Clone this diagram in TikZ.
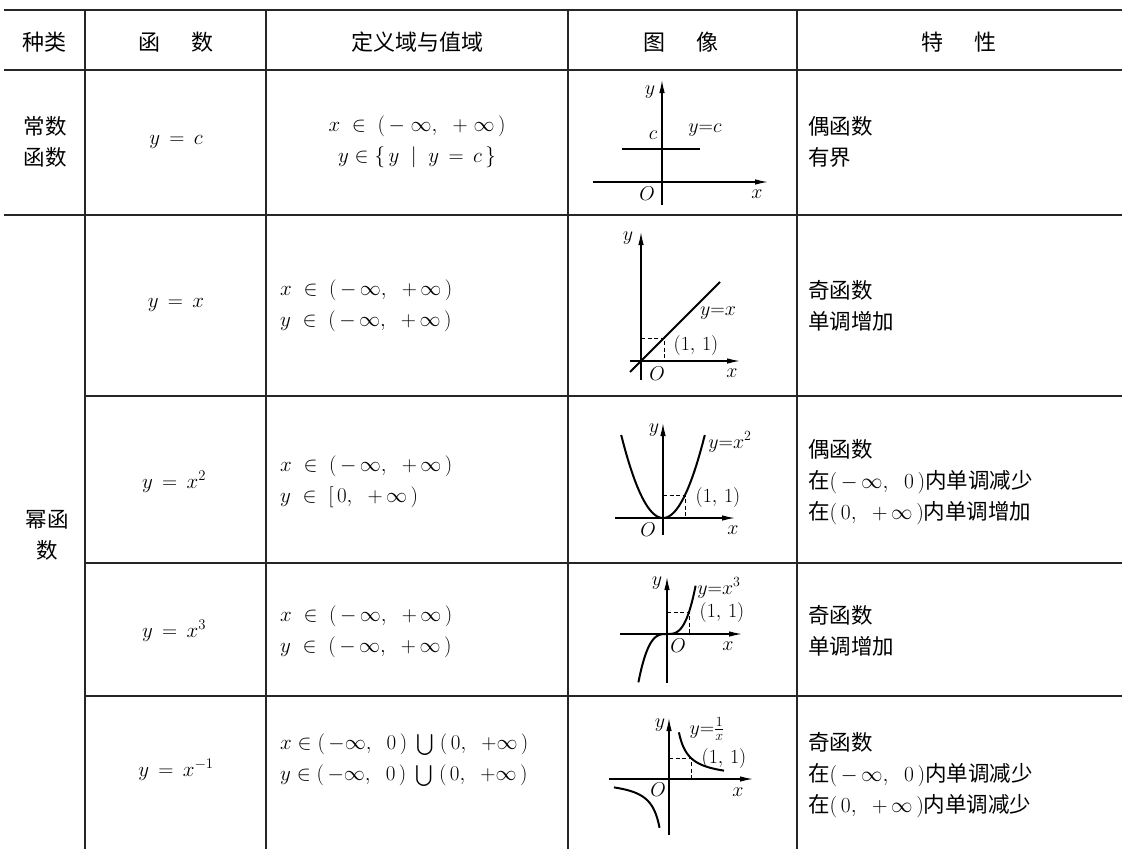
\RequirePackage{fix-cm}
\documentclass[tikz,border=0pt]{standalone}
\usepackage{amsmath,amssymb}
\usepackage{fontspec}
\newfontfamily\cjk{Noto Sans CJK SC}
\usetikzlibrary{arrows.meta}
\newcommand\fcm{,\;\;}
\tikzset{
 rule/.style={line width=1.3pt, draw=black!85},
 hdr/.style={font=\cjk\fontsize{22}{24}\selectfont, inner sep=0pt},
 cn/.style={font=\cjk\fontsize{21.5}{31}\selectfont, align=left, inner sep=0pt},
 cnc/.style={cn, align=center},
 mth/.style={font=\fontsize{21}{31}\selectfont, inner sep=0pt},
 mthl/.style={mth, align=left},
 mthc/.style={mth, align=center},
 axis/.style={line width=1.2pt, -{Latex[length=13pt,width=5.5pt]}},
 curve/.style={line width=2pt},
 guide/.style={line width=1pt, dash pattern=on 4pt off 2.5pt},
 lab/.style={font=\fontsize{20}{24}\selectfont, inner sep=0pt},
}
\begin{document}
\begin{tikzpicture}[x=1pt,y=-1pt]
\useasboundingbox (0,0) rectangle (1122,849);
% table rules
\draw[rule, line width=2.8pt] (4,10) -- (1122,10);
\draw[rule, line width=1.8pt] (4,70) -- (1122,70);
\draw[rule] (4,215) -- (1122,215);
\draw[rule] (85,396) -- (1122,396);
\draw[rule] (85,563) -- (1122,563);
\draw[rule] (85,696) -- (1122,696);
\foreach \cx in {85,266,568,797} \draw[rule] (\cx,10) -- (\cx,849);
% header
\node[hdr] (h1) at (45,42) {种类};
\node[hdr] (h2) at (176,42) {函\hspace{1.4em}数};
\node[hdr] (h3) at (417,42) {定义域与值域};
\node[hdr] (h4) at (681,42) {图\hspace{1.4em}像};
\node[hdr] (h5) at (959,42) {特\hspace{1.4em}性};
% row 1
\node[cnc] (k1) at (45,142) {常数\\函数};
\node[mth] (f1) at (176,142) {$y\,=\,c$};
\node[mthc] (d1) at (417,142) {$x\;\in\;(\,-\;\infty\fcm+\;\infty\,)$\\$y\in\{\,y\;\mid\;y\,=\,c\,\}$};
\node[cn, anchor=west] (p1) at (808,142) {偶函数\\有界};
% power functions label
\node[cnc] (k2) at (47,535) {幂函\\数};
% row 2
\node[mth] (f2) at (176,305) {$y\,=\,x$};
\node[mthl, anchor=west] (d2) at (280,306) {$x\;\in\;(\,-\,\infty\fcm+\,\infty\,)$\\$y\;\in\;(\,-\,\infty\fcm+\,\infty\,)$};
\node[cn, anchor=west] (p2) at (808,306) {奇函数\\单调增加};
% row 3
\node[mth] (f3) at (174,482) {$y\,=\,x^{2}$};
\node[mthl, anchor=west] (d3) at (280,482) {$x\;\in\;(\,-\,\infty\fcm+\,\infty\,)$\\$y\;\in\;[\,0\fcm+\,\infty\,)$};
\node[cn, anchor=west] (p3) at (808,482) {偶函数\\在$(\,-\,\infty\fcm0\,)$内单调减少\\在$(\,0\fcm+\,\infty\,)$内单调增加};
% row 4
\node[mth] (f4) at (174,631) {$y\,=\,x^{3}$};
\node[mthl, anchor=west] (d4) at (280,632) {$x\;\in\;(\,-\,\infty\fcm+\,\infty\,)$\\$y\;\in\;(\,-\,\infty\fcm+\,\infty\,)$};
\node[cn, anchor=west] (p4) at (808,631) {奇函数\\单调增加};
% row 5
\node[mth] (f5) at (176,770) {$y\,=\,x^{-1}$};
\node[mthl, anchor=west] (d5) at (280,760) {$x\in(\,-\infty\fcm0\,)\;\bigcup\;(\,0\fcm+\infty\,)$\\$y\in(\,-\infty\fcm0\,)\;\bigcup\;(\,0\fcm+\infty\,)$};
\node[cn, anchor=west] (p5) at (808,775) {奇函数\\在$(\,-\,\infty\fcm0\,)$内单调减少\\在$(\,0\fcm+\,\infty\,)$内单调减少};
% graph 1: y = c
\draw[axis] (593,182) -- (768,182);
\draw[axis] (662,205) -- (662,80);
\draw[curve] (622,149) -- (700,149);
\node[lab] (g1y) at (650,92) {$y$};
\node[lab] (g1c) at (653,135) {$c$};
\node[lab] (g1f) at (705,130) {$y{=}c$};
\node[lab] (g1o) at (647,194) {$O$};
\node[lab] (g1x) at (757,194) {$x$};
% graph 2: y = x
\draw[axis] (630,361) -- (740,361);
\draw[axis] (641,380) -- (641,232);
\draw[curve] (630,372) -- (720,282);
\draw[guide] (641,338) -- (664,338) -- (664,361);
\node[lab] (g2y) at (628,238) {$y$};
\node[lab] (g2f) at (718,313) {$y{=}x$};
\node[lab] (g2p) at (696,345) {$(1,\,1)$};
\node[lab] (g2o) at (657,374) {$O$};
\node[lab] (g2x) at (732,373) {$x$};
% graph 3: y = x^2
\draw[axis] (615,518) -- (735,518);
\draw[axis] (663,535) -- (663,423);
\draw[curve] plot[domain=-1.9:1.9, samples=60, smooth] ({663+22*\x},{518-23*\x*\x});
\draw[guide] (663,495) -- (685,495) -- (685,518);
\node[lab] (g3y) at (654,430) {$y$};
\node[lab] (g3f) at (730,442) {$y{=}x^2$};
\node[lab] (g3p) at (718,497) {$(1,\,1)$};
\node[lab] (g3o) at (648,530) {$O$};
\node[lab] (g3x) at (733,530) {$x$};
% graph 4: y = x^3
\draw[axis] (620,634) -- (742,634);
\draw[axis] (667,683) -- (667,577);
\draw[curve] plot[domain=-1.3:1.3, samples=60, smooth] ({667+22*\x},{634-22*\x*\x*\x});
\draw[guide] (667,612) -- (689,612) -- (689,634);
\node[lab] (g4y) at (657,583) {$y$};
\node[lab] (g4f) at (719,588) {$y{=}x^3$};
\node[lab] (g4p) at (722,612) {$(1,\,1)$};
\node[lab] (g4o) at (678,646) {$O$};
\node[lab] (g4x) at (728,646) {$x$};
% graph 5: y = 1/x
\draw[axis] (609,779) -- (753,779);
\draw[axis] (669,835) -- (669,718);
\draw[curve] plot[domain=0.45:2.5, samples=60, smooth] ({669+22*\x},{779-21/\x});
\draw[curve] plot[domain=-2.5:-0.43, samples=60, smooth] ({669+22*\x},{779-21/\x});
\draw[guide] (669,758) -- (691,758) -- (691,779);
\node[lab] (g5y) at (660,725) {$y$};
\node[lab] (g5f) at (707,729) {$y{=}\frac{1}{x}$};
\node[lab] (g5p) at (724,758) {$(1,\,1)$};
\node[lab] (g5o) at (658,790) {$O$};
\node[lab] (g5x) at (738,792) {$x$};
\end{tikzpicture}
\end{document}
